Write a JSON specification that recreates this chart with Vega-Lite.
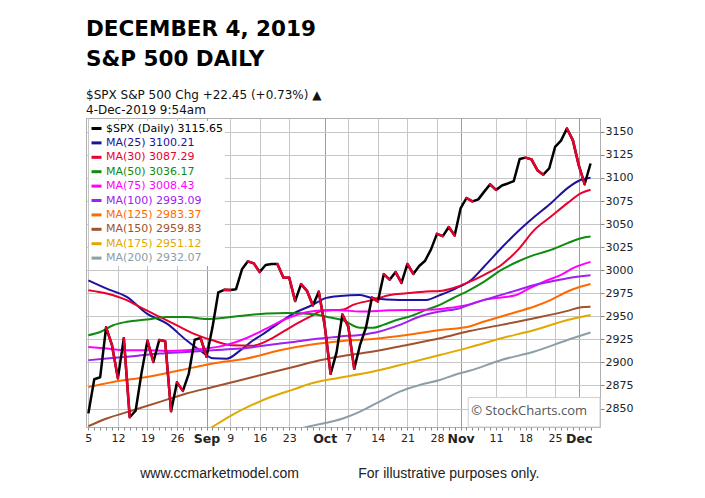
{
  "$schema": "https://vega.github.io/schema/vega-lite/v6.json",
  "width": 514,
  "height": 309,
  "autosize": "none",
  "padding": {"left": 86, "top": 118, "right": 105, "bottom": 71},
  "background": "white",
  "title": {
    "text": ["DECEMBER 4, 2019", "S&P 500 DAILY"],
    "subtitle": ["$SPX  S&P 500  Chg +22.45 (+0.73%) ▲", "4-Dec-2019 9:54am"],
    "anchor": "start",
    "frame": "group",
    "font": "DejaVu Sans",
    "fontSize": 21.5,
    "fontWeight": "bold",
    "lineHeight": 30,
    "color": "#000000",
    "subtitleFont": "DejaVu Sans",
    "subtitleFontSize": 12,
    "subtitleLineHeight": 15,
    "subtitleColor": "#111111",
    "subtitlePadding": 20,
    "offset": 2
  },
  "datasets": {
    "spx": [
      {"date": "2019-08-05", "i": 0, "v": 2844.74},
      {"date": "2019-08-06", "i": 1, "v": 2881.77},
      {"date": "2019-08-07", "i": 2, "v": 2883.98},
      {"date": "2019-08-08", "i": 3, "v": 2938.09},
      {"date": "2019-08-09", "i": 4, "v": 2918.65},
      {"date": "2019-08-12", "i": 5, "v": 2882.70},
      {"date": "2019-08-13", "i": 6, "v": 2926.32},
      {"date": "2019-08-14", "i": 7, "v": 2840.60},
      {"date": "2019-08-15", "i": 8, "v": 2847.60},
      {"date": "2019-08-16", "i": 9, "v": 2888.68},
      {"date": "2019-08-19", "i": 10, "v": 2923.65},
      {"date": "2019-08-20", "i": 11, "v": 2900.51},
      {"date": "2019-08-21", "i": 12, "v": 2924.43},
      {"date": "2019-08-22", "i": 13, "v": 2922.95},
      {"date": "2019-08-23", "i": 14, "v": 2847.11},
      {"date": "2019-08-26", "i": 15, "v": 2878.38},
      {"date": "2019-08-27", "i": 16, "v": 2869.16},
      {"date": "2019-08-28", "i": 17, "v": 2887.94},
      {"date": "2019-08-29", "i": 18, "v": 2924.58},
      {"date": "2019-08-30", "i": 19, "v": 2926.46},
      {"date": "2019-09-03", "i": 20, "v": 2906.27},
      {"date": "2019-09-04", "i": 21, "v": 2937.78},
      {"date": "2019-09-05", "i": 22, "v": 2976.00},
      {"date": "2019-09-06", "i": 23, "v": 2978.71},
      {"date": "2019-09-09", "i": 24, "v": 2978.43},
      {"date": "2019-09-10", "i": 25, "v": 2979.39},
      {"date": "2019-09-11", "i": 26, "v": 3000.93},
      {"date": "2019-09-12", "i": 27, "v": 3009.57},
      {"date": "2019-09-13", "i": 28, "v": 3007.39},
      {"date": "2019-09-16", "i": 29, "v": 2997.96},
      {"date": "2019-09-17", "i": 30, "v": 3005.70},
      {"date": "2019-09-18", "i": 31, "v": 3006.73},
      {"date": "2019-09-19", "i": 32, "v": 3006.79},
      {"date": "2019-09-20", "i": 33, "v": 2992.07},
      {"date": "2019-09-23", "i": 34, "v": 2991.78},
      {"date": "2019-09-24", "i": 35, "v": 2966.60},
      {"date": "2019-09-25", "i": 36, "v": 2984.87},
      {"date": "2019-09-26", "i": 37, "v": 2977.62},
      {"date": "2019-09-27", "i": 38, "v": 2961.79},
      {"date": "2019-09-30", "i": 39, "v": 2976.74},
      {"date": "2019-10-01", "i": 40, "v": 2940.25},
      {"date": "2019-10-02", "i": 41, "v": 2887.61},
      {"date": "2019-10-03", "i": 42, "v": 2910.63},
      {"date": "2019-10-04", "i": 43, "v": 2952.01},
      {"date": "2019-10-07", "i": 44, "v": 2938.79},
      {"date": "2019-10-08", "i": 45, "v": 2893.06},
      {"date": "2019-10-09", "i": 46, "v": 2919.40},
      {"date": "2019-10-10", "i": 47, "v": 2938.13},
      {"date": "2019-10-11", "i": 48, "v": 2970.27},
      {"date": "2019-10-14", "i": 49, "v": 2966.15},
      {"date": "2019-10-15", "i": 50, "v": 2995.68},
      {"date": "2019-10-16", "i": 51, "v": 2989.69},
      {"date": "2019-10-17", "i": 52, "v": 2997.95},
      {"date": "2019-10-18", "i": 53, "v": 2986.20},
      {"date": "2019-10-21", "i": 54, "v": 3006.72},
      {"date": "2019-10-22", "i": 55, "v": 2995.99},
      {"date": "2019-10-23", "i": 56, "v": 3004.52},
      {"date": "2019-10-24", "i": 57, "v": 3010.29},
      {"date": "2019-10-25", "i": 58, "v": 3022.55},
      {"date": "2019-10-28", "i": 59, "v": 3039.42},
      {"date": "2019-10-29", "i": 60, "v": 3036.89},
      {"date": "2019-10-30", "i": 61, "v": 3046.77},
      {"date": "2019-10-31", "i": 62, "v": 3037.56},
      {"date": "2019-11-01", "i": 63, "v": 3066.91},
      {"date": "2019-11-04", "i": 64, "v": 3078.27},
      {"date": "2019-11-05", "i": 65, "v": 3074.62},
      {"date": "2019-11-06", "i": 66, "v": 3076.78},
      {"date": "2019-11-07", "i": 67, "v": 3085.18},
      {"date": "2019-11-08", "i": 68, "v": 3093.08},
      {"date": "2019-11-11", "i": 69, "v": 3087.01},
      {"date": "2019-11-12", "i": 70, "v": 3091.84},
      {"date": "2019-11-13", "i": 71, "v": 3094.04},
      {"date": "2019-11-14", "i": 72, "v": 3096.63},
      {"date": "2019-11-15", "i": 73, "v": 3120.46},
      {"date": "2019-11-18", "i": 74, "v": 3122.03},
      {"date": "2019-11-19", "i": 75, "v": 3120.18},
      {"date": "2019-11-20", "i": 76, "v": 3108.46},
      {"date": "2019-11-21", "i": 77, "v": 3103.54},
      {"date": "2019-11-22", "i": 78, "v": 3110.29},
      {"date": "2019-11-25", "i": 79, "v": 3133.64},
      {"date": "2019-11-26", "i": 80, "v": 3140.52},
      {"date": "2019-11-27", "i": 81, "v": 3153.63},
      {"date": "2019-11-29", "i": 82, "v": 3140.98},
      {"date": "2019-12-02", "i": 83, "v": 3113.87},
      {"date": "2019-12-03", "i": 84, "v": 3093.20},
      {"date": "2019-12-04", "i": 85, "v": 3115.65}
    ],
    "ma": [
      {"series": "MA(25)", "i": 0, "v": 2989}, {"series": "MA(25)", "i": 3.1, "v": 2980}, {"series": "MA(25)", "i": 6.5, "v": 2971}, {"series": "MA(25)", "i": 9.9, "v": 2953}, {"series": "MA(25)", "i": 13.3, "v": 2942}, {"series": "MA(25)", "i": 16.6, "v": 2924}, {"series": "MA(25)", "i": 18.9, "v": 2913}, {"series": "MA(25)", "i": 21.1, "v": 2904.5}, {"series": "MA(25)", "i": 23.4, "v": 2904}, {"series": "MA(25)", "i": 25.7, "v": 2913}, {"series": "MA(25)", "i": 27.9, "v": 2924}, {"series": "MA(25)", "i": 29.4, "v": 2930}, {"series": "MA(25)", "i": 31.3, "v": 2938.5}, {"series": "MA(25)", "i": 34.7, "v": 2953}, {"series": "MA(25)", "i": 37.8, "v": 2962}, {"series": "MA(25)", "i": 40.3, "v": 2970}, {"series": "MA(25)", "i": 42.6, "v": 2972}, {"series": "MA(25)", "i": 46, "v": 2973}, {"series": "MA(25)", "i": 48.2, "v": 2969.6}, {"series": "MA(25)", "i": 52.7, "v": 2967.8}, {"series": "MA(25)", "i": 57.2, "v": 2967.8}, {"series": "MA(25)", "i": 59.5, "v": 2973}, {"series": "MA(25)", "i": 62.3, "v": 2980.5}, {"series": "MA(25)", "i": 64.9, "v": 2990}, {"series": "MA(25)", "i": 67, "v": 3004}, {"series": "MA(25)", "i": 69.9, "v": 3024}, {"series": "MA(25)", "i": 72.7, "v": 3042}, {"series": "MA(25)", "i": 75.5, "v": 3058}, {"series": "MA(25)", "i": 78.3, "v": 3072.7}, {"series": "MA(25)", "i": 81.1, "v": 3089}, {"series": "MA(25)", "i": 83.4, "v": 3098}, {"series": "MA(25)", "i": 85, "v": 3100.2},
      {"series": "MA(30)", "i": 0, "v": 2978.3}, {"series": "MA(30)", "i": 3.1, "v": 2974.7}, {"series": "MA(30)", "i": 6.5, "v": 2967.5}, {"series": "MA(30)", "i": 8.7, "v": 2960.2}, {"series": "MA(30)", "i": 12.1, "v": 2949.3}, {"series": "MA(30)", "i": 15.5, "v": 2938.5}, {"series": "MA(30)", "i": 17.8, "v": 2931.3}, {"series": "MA(30)", "i": 21, "v": 2924}, {"series": "MA(30)", "i": 24.3, "v": 2918.5}, {"series": "MA(30)", "i": 27.7, "v": 2918}, {"series": "MA(30)", "i": 29.4, "v": 2921}, {"series": "MA(30)", "i": 31.3, "v": 2927}, {"series": "MA(30)", "i": 34.7, "v": 2940}, {"series": "MA(30)", "i": 37.8, "v": 2950.5}, {"series": "MA(30)", "i": 39.5, "v": 2956}, {"series": "MA(30)", "i": 43.2, "v": 2957.5}, {"series": "MA(30)", "i": 44.8, "v": 2962.4}, {"series": "MA(30)", "i": 48.2, "v": 2967.8}, {"series": "MA(30)", "i": 51, "v": 2973.2}, {"series": "MA(30)", "i": 53.9, "v": 2975}, {"series": "MA(30)", "i": 57.2, "v": 2976.9}, {"series": "MA(30)", "i": 59.5, "v": 2977.5}, {"series": "MA(30)", "i": 61.7, "v": 2980.5}, {"series": "MA(30)", "i": 64.2, "v": 2986.5}, {"series": "MA(30)", "i": 67, "v": 2995}, {"series": "MA(30)", "i": 69.9, "v": 3005.7}, {"series": "MA(30)", "i": 72.7, "v": 3022}, {"series": "MA(30)", "i": 75.5, "v": 3043.7}, {"series": "MA(30)", "i": 78.3, "v": 3058.2}, {"series": "MA(30)", "i": 81.1, "v": 3072.7}, {"series": "MA(30)", "i": 83.4, "v": 3083.5}, {"series": "MA(30)", "i": 85, "v": 3087.3},
      {"series": "MA(50)", "i": 0, "v": 2929.5}, {"series": "MA(50)", "i": 2, "v": 2933}, {"series": "MA(50)", "i": 4.2, "v": 2940.3}, {"series": "MA(50)", "i": 6.5, "v": 2944}, {"series": "MA(50)", "i": 9.9, "v": 2946.5}, {"series": "MA(50)", "i": 13.3, "v": 2949.3}, {"series": "MA(50)", "i": 16.6, "v": 2949.3}, {"series": "MA(50)", "i": 20, "v": 2947}, {"series": "MA(50)", "i": 23.4, "v": 2948.7}, {"series": "MA(50)", "i": 26.8, "v": 2951.2}, {"series": "MA(50)", "i": 30.2, "v": 2953}, {"series": "MA(50)", "i": 33.6, "v": 2953.7}, {"series": "MA(50)", "i": 38.1, "v": 2952.3}, {"series": "MA(50)", "i": 40.3, "v": 2949.5}, {"series": "MA(50)", "i": 43, "v": 2946}, {"series": "MA(50)", "i": 46, "v": 2937.5}, {"series": "MA(50)", "i": 48.2, "v": 2937.5}, {"series": "MA(50)", "i": 49.9, "v": 2940.7}, {"series": "MA(50)", "i": 52.2, "v": 2946}, {"series": "MA(50)", "i": 54.4, "v": 2949.8}, {"series": "MA(50)", "i": 57.2, "v": 2957}, {"series": "MA(50)", "i": 59.5, "v": 2962.4}, {"series": "MA(50)", "i": 61.7, "v": 2969.6}, {"series": "MA(50)", "i": 64.5, "v": 2978.5}, {"series": "MA(50)", "i": 67, "v": 2987.7}, {"series": "MA(50)", "i": 69.9, "v": 3000.3}, {"series": "MA(50)", "i": 72.7, "v": 3009.4}, {"series": "MA(50)", "i": 75.5, "v": 3016.6}, {"series": "MA(50)", "i": 78.3, "v": 3022}, {"series": "MA(50)", "i": 81.1, "v": 3029.3}, {"series": "MA(50)", "i": 83.4, "v": 3034.7}, {"series": "MA(50)", "i": 85, "v": 3036.5},
      {"series": "MA(75)", "i": 0, "v": 2916.8}, {"series": "MA(75)", "i": 3.1, "v": 2915}, {"series": "MA(75)", "i": 6.5, "v": 2913.2}, {"series": "MA(75)", "i": 9.9, "v": 2913.2}, {"series": "MA(75)", "i": 13.3, "v": 2912.5}, {"series": "MA(75)", "i": 16.6, "v": 2913.2}, {"series": "MA(75)", "i": 20, "v": 2915}, {"series": "MA(75)", "i": 23.4, "v": 2919}, {"series": "MA(75)", "i": 26.8, "v": 2926.5}, {"series": "MA(75)", "i": 30.2, "v": 2937}, {"series": "MA(75)", "i": 33.6, "v": 2947.6}, {"series": "MA(75)", "i": 36.9, "v": 2954.5}, {"series": "MA(75)", "i": 40.3, "v": 2956.6}, {"series": "MA(75)", "i": 42.6, "v": 2956.6}, {"series": "MA(75)", "i": 46, "v": 2955.2}, {"series": "MA(75)", "i": 51, "v": 2956.5}, {"series": "MA(75)", "i": 57.2, "v": 2957}, {"series": "MA(75)", "i": 60.6, "v": 2958.8}, {"series": "MA(75)", "i": 64.2, "v": 2962.4}, {"series": "MA(75)", "i": 67, "v": 2967.8}, {"series": "MA(75)", "i": 69.9, "v": 2970.5}, {"series": "MA(75)", "i": 72.1, "v": 2972.5}, {"series": "MA(75)", "i": 74.4, "v": 2979.5}, {"series": "MA(75)", "i": 77.2, "v": 2987.7}, {"series": "MA(75)", "i": 80, "v": 2995}, {"series": "MA(75)", "i": 82.3, "v": 3003}, {"series": "MA(75)", "i": 85, "v": 3009},
      {"series": "MA(100)", "i": 0, "v": 2902.4}, {"series": "MA(100)", "i": 3.1, "v": 2904.2}, {"series": "MA(100)", "i": 7.6, "v": 2906.7}, {"series": "MA(100)", "i": 12.1, "v": 2909.6}, {"series": "MA(100)", "i": 16.6, "v": 2911.4}, {"series": "MA(100)", "i": 21.1, "v": 2913.2}, {"series": "MA(100)", "i": 25.7, "v": 2915}, {"series": "MA(100)", "i": 30.2, "v": 2918.7}, {"series": "MA(100)", "i": 34.7, "v": 2922.2}, {"series": "MA(100)", "i": 39.2, "v": 2925.9}, {"series": "MA(100)", "i": 42.6, "v": 2928.2}, {"series": "MA(100)", "i": 46, "v": 2929.8}, {"series": "MA(100)", "i": 49.3, "v": 2933.5}, {"series": "MA(100)", "i": 52.7, "v": 2940.7}, {"series": "MA(100)", "i": 56.1, "v": 2949.8}, {"series": "MA(100)", "i": 59.5, "v": 2955.2}, {"series": "MA(100)", "i": 62.9, "v": 2958.8}, {"series": "MA(100)", "i": 64.9, "v": 2963.5}, {"series": "MA(100)", "i": 67, "v": 2967.8}, {"series": "MA(100)", "i": 69.9, "v": 2973.2}, {"series": "MA(100)", "i": 72.7, "v": 2978.6}, {"series": "MA(100)", "i": 75.5, "v": 2984}, {"series": "MA(100)", "i": 78.3, "v": 2987.7}, {"series": "MA(100)", "i": 81.1, "v": 2991.3}, {"series": "MA(100)", "i": 85, "v": 2994.5},
      {"series": "MA(125)", "i": 0, "v": 2873.4}, {"series": "MA(125)", "i": 4.2, "v": 2878.9}, {"series": "MA(125)", "i": 9.9, "v": 2884.3}, {"series": "MA(125)", "i": 15.5, "v": 2891.5}, {"series": "MA(125)", "i": 21.1, "v": 2898.8}, {"series": "MA(125)", "i": 26.8, "v": 2904.2}, {"series": "MA(125)", "i": 32.4, "v": 2913.2}, {"series": "MA(125)", "i": 38.1, "v": 2919.7}, {"series": "MA(125)", "i": 42.6, "v": 2923}, {"series": "MA(125)", "i": 48.2, "v": 2925.5}, {"series": "MA(125)", "i": 53.9, "v": 2929.8}, {"series": "MA(125)", "i": 59.5, "v": 2935.2}, {"series": "MA(125)", "i": 64.5, "v": 2939}, {"series": "MA(125)", "i": 67, "v": 2944.4}, {"series": "MA(125)", "i": 69.9, "v": 2949.8}, {"series": "MA(125)", "i": 72.7, "v": 2955.2}, {"series": "MA(125)", "i": 75.5, "v": 2960.6}, {"series": "MA(125)", "i": 78.3, "v": 2967.8}, {"series": "MA(125)", "i": 81.1, "v": 2976.9}, {"series": "MA(125)", "i": 83.4, "v": 2982.3}, {"series": "MA(125)", "i": 85, "v": 2985},
      {"series": "MA(150)", "i": 0, "v": 2830.8}, {"series": "MA(150)", "i": 3.1, "v": 2839.2}, {"series": "MA(150)", "i": 7.6, "v": 2848.2}, {"series": "MA(150)", "i": 12.1, "v": 2857.2}, {"series": "MA(150)", "i": 16.6, "v": 2866.3}, {"series": "MA(150)", "i": 21.1, "v": 2873.4}, {"series": "MA(150)", "i": 25.7, "v": 2880.7}, {"series": "MA(150)", "i": 30.2, "v": 2888}, {"series": "MA(150)", "i": 34.7, "v": 2895.1}, {"series": "MA(150)", "i": 39.2, "v": 2902.4}, {"series": "MA(150)", "i": 42.6, "v": 2906.5}, {"series": "MA(150)", "i": 48.2, "v": 2911.8}, {"series": "MA(150)", "i": 53.9, "v": 2919}, {"series": "MA(150)", "i": 59.5, "v": 2926.2}, {"series": "MA(150)", "i": 64.5, "v": 2934}, {"series": "MA(150)", "i": 69.9, "v": 2940.7}, {"series": "MA(150)", "i": 75.5, "v": 2947.9}, {"series": "MA(150)", "i": 81.1, "v": 2955.9}, {"series": "MA(150)", "i": 83.4, "v": 2959.9}, {"series": "MA(150)", "i": 85, "v": 2960.4},
      {"series": "MA(175)", "i": 20, "v": 2826}, {"series": "MA(175)", "i": 21.1, "v": 2830.5}, {"series": "MA(175)", "i": 24.3, "v": 2843}, {"series": "MA(175)", "i": 27.7, "v": 2853.9}, {"series": "MA(175)", "i": 31.1, "v": 2863}, {"series": "MA(175)", "i": 34.5, "v": 2870.2}, {"series": "MA(175)", "i": 37.8, "v": 2877.4}, {"series": "MA(175)", "i": 41.2, "v": 2882}, {"series": "MA(175)", "i": 43, "v": 2884}, {"series": "MA(175)", "i": 48.2, "v": 2890.1}, {"series": "MA(175)", "i": 53.9, "v": 2899}, {"series": "MA(175)", "i": 59.5, "v": 2908}, {"series": "MA(175)", "i": 64.5, "v": 2916.3}, {"series": "MA(175)", "i": 69.9, "v": 2926.2}, {"series": "MA(175)", "i": 75.5, "v": 2935.2}, {"series": "MA(175)", "i": 81.1, "v": 2946}, {"series": "MA(175)", "i": 85, "v": 2951.5},
      {"series": "MA(200)", "i": 36, "v": 2828.5}, {"series": "MA(200)", "i": 37.3, "v": 2830.5}, {"series": "MA(200)", "i": 43.2, "v": 2839.5}, {"series": "MA(200)", "i": 46, "v": 2846.7}, {"series": "MA(200)", "i": 49.3, "v": 2857.6}, {"series": "MA(200)", "i": 52.7, "v": 2868.4}, {"series": "MA(200)", "i": 56.1, "v": 2875.6}, {"series": "MA(200)", "i": 59.5, "v": 2881}, {"series": "MA(200)", "i": 62.9, "v": 2888.3}, {"series": "MA(200)", "i": 64.5, "v": 2891}, {"series": "MA(200)", "i": 69.9, "v": 2902.7}, {"series": "MA(200)", "i": 75.5, "v": 2911.8}, {"series": "MA(200)", "i": 81.1, "v": 2924.4}, {"series": "MA(200)", "i": 85, "v": 2932.5}
    ]
  },
  "layer": [
    {
      "data": {"name": "ma"},
      "mark": {"type": "line", "strokeWidth": 2, "interpolate": "monotone", "clip": true},
      "encoding": {
        "x": {
          "field": "i", "type": "quantitative",
          "scale": {"domain": [-0.4, 86.6], "nice": false, "zero": false},
          "axis": {
            "values": [0,1,2,3,4,5,6,7,8,9,10,11,12,13,14,15,16,17,18,19,20,21,22,23,24,25,26,27,28,29,30,31,32,33,34,35,36,37,38,39,40,41,42,43,44,45,46,47,48,49,50,51,52,53,54,55,56,57,58,59,60,61,62,63,64,65,66,67,68,69,70,71,72,73,74,75,76,77,78,79,80,81,82,83,84,85],
            "tickCount": 200,
            "labelExpr": "{'0':'5','5':'12','10':'19','15':'26','20':'Sep','24':'9','29':'16','34':'23','40':'Oct','44':'7','49':'14','54':'21','59':'28','63':'Nov','69':'11','74':'18','79':'25','83':'Dec'}[datum.value] || ''",
            "labelOverlap": false,
            "labelFlush": false,
            "labelFontWeight": {"condition": {"test": "indexof([20,40,63,83], datum.value) >= 0", "value": "bold"}, "value": "normal"},
            "labelFontSize": {"condition": {"test": "indexof([20,40,63,83], datum.value) >= 0", "value": 12.5}, "value": 11},
            "gridColor": {"condition": {"test": "indexof([20,40,63,83], datum.value) >= 0", "value": "#9c9c9c"}, "value": "#c6c6c6"},
            "gridOpacity": {"condition": {"test": "indexof([0,5,10,15,20,24,29,34,40,44,49,54,59,63,69,74,79,83], datum.value) >= 0", "value": 1}, "value": 0},
            "title": "www.ccmarketmodel.com",
            "titleX": 133,
            "titleY": 50
          }
        },
        "y": {
          "field": "v", "type": "quantitative",
          "scale": {"domain": [2830, 3165], "nice": false, "zero": false},
          "axis": {
            "orient": "right",
            "values": [2850,2875,2900,2925,2950,2975,3000,3025,3050,3075,3100,3125,3150],
            "tickCount": 100,
            "format": "d",
            "gridColor": "#c6c6c6",
            "title": "For illustrative purposes only.",
            "titleAngle": 0,
            "titleX": -151.7,
            "titleY": 359
          }
        },
        "color": {
          "field": "series", "type": "nominal",
          "scale": {
            "domain": ["$SPX (Daily)", "MA(25)", "MA(30)", "MA(50)", "MA(75)", "MA(100)", "MA(125)", "MA(150)", "MA(175)", "MA(200)"],
            "range": ["#000000", "#1c129e", "#e8002e", "#108a10", "#ff00ff", "#a020f0", "#ff6a00", "#a0522d", "#e0a800", "#8c9ea8"]
          },
          "legend": {
            "orient": "top-left",
            "offset": 3,
            "padding": 1,
            "title": null,
            "symbolType": "stroke",
            "symbolSize": 100,
            "symbolStrokeWidth": 3,
            "labelFont": "DejaVu Sans",
            "labelFontSize": 11,
            "labelOffset": 3,
            "rowPadding": 1.4,
            "fillColor": "white",
            "labelExpr": "{'$SPX (Daily)':'$SPX (Daily) 3115.65','MA(25)':'MA(25) 3100.21','MA(30)':'MA(30) 3087.29','MA(50)':'MA(50) 3036.17','MA(75)':'MA(75) 3008.43','MA(100)':'MA(100) 2993.09','MA(125)':'MA(125) 2983.37','MA(150)':'MA(150) 2959.83','MA(175)':'MA(175) 2951.12','MA(200)':'MA(200) 2932.07'}[datum.label]",
            "encode": {"labels": {"update": {"fill": {"signal": "scale('color', datum.value)"}}}}
          }
        }
      }
    },
    {
      "data": {"name": "spx"},
      "mark": {"type": "line", "strokeWidth": 2.5, "strokeJoin": "round", "clip": true},
      "encoding": {
        "x": {"field": "i", "type": "quantitative"},
        "y": {"field": "v", "type": "quantitative"},
        "color": {"datum": "$SPX (Daily)"}
      }
    },
    {
      "data": {"name": "spx"},
      "transform": [
        {"window": [{"op": "lag", "field": "v", "as": "pv"}, {"op": "lag", "field": "i", "as": "pi"}], "sort": [{"field": "i"}]},
        {"filter": "datum.pv != null && datum.v < datum.pv"}
      ],
      "mark": {"type": "rule", "color": "#e8002e", "strokeWidth": 2.5, "strokeCap": "round", "clip": true},
      "encoding": {
        "x": {"field": "i", "type": "quantitative"},
        "x2": {"field": "pi"},
        "y": {"field": "v", "type": "quantitative"},
        "y2": {"field": "pv"}
      }
    },
    {
      "data": {"values": [{}]},
      "mark": {"type": "rect", "fill": "white", "stroke": "#cfcfcf", "strokeWidth": 1},
      "encoding": {
        "x": {"datum": 64.3, "type": "quantitative"},
        "x2": {"datum": 86.6},
        "y": {"datum": 2830, "type": "quantitative"},
        "y2": {"datum": 2862}
      }
    },
    {
      "data": {"values": [{}]},
      "mark": {"type": "text", "text": "© StockCharts.com", "font": "Open Sans", "fontSize": 13, "color": "#555555", "align": "center", "baseline": "middle"},
      "encoding": {
        "x": {"datum": 74.6, "type": "quantitative"},
        "y": {"datum": 2847, "type": "quantitative"}
      }
    }
  ],
  "config": {
    "view": {"stroke": "#b0b0b0", "strokeWidth": 1},
    "numberFormat": "d",
    "axis": {
      "labelFont": "DejaVu Sans",
      "labelFontSize": 11,
      "labelColor": "#222222",
      "labelOverlap": false,
      "labelFlush": false,
      "domain": false,
      "grid": true,
      "gridColor": "#c6c6c6",
      "tickColor": "#888888",
      "titleFont": "Liberation Sans",
      "titleFontSize": 14,
      "titleFontWeight": "normal",
      "titleColor": "#222222",
      "titleAlign": "center",
      "titleBaseline": "alphabetic"
    },
    "axisX": {"tickSize": 3, "labelPadding": 2},
    "axisY": {"tickSize": 4, "labelPadding": 1}
  }
}
